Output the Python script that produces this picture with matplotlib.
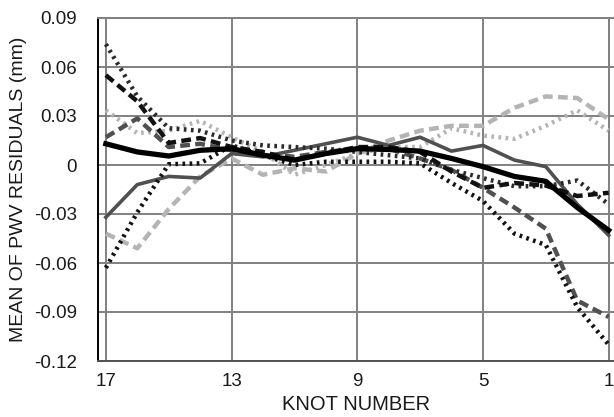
import matplotlib
matplotlib.use("Agg")
import matplotlib.pyplot as plt

plt.rcParams['font.family'] = ['Liberation Sans', 'DejaVu Sans']

# knot numbers, plotted on a reversed axis
knots = list(range(17, 0, -1))

black_solid = [0.013, 0.008, 0.0055, 0.009, 0.010, 0.006, 0.003, 0.007, 0.010,
               0.0095, 0.0085, 0.004, -0.001, -0.007, -0.010, -0.026, -0.040]
gray_solid = [-0.032, -0.012, -0.007, -0.008, 0.007, 0.005, 0.009, 0.013, 0.017,
              0.012, 0.017, 0.0085, 0.012, 0.003, -0.001, -0.024, -0.043]
black_dashed = [0.055, 0.039, 0.0135, 0.0165, 0.011, 0.008, 0.003, 0.007, 0.011,
                0.011, 0.008, -0.004, -0.014, -0.011, -0.0126, -0.019, -0.017]
gray_dashed = [0.017, 0.0285, 0.011, 0.013, 0.009, 0.007, 0.005, 0.008, 0.010,
               0.010, 0.004, -0.003, -0.014, -0.026, -0.039, -0.083, -0.093]
dotted_upper = [0.074, 0.042, 0.0225, 0.021, 0.015, 0.012, 0.011, 0.010, 0.008,
                0.006, 0.004, -0.003, -0.008, -0.013, -0.013, -0.0095, -0.024]
dotted_lower = [-0.063, -0.029, 0.0005, 0.001, 0.012, 0.006, 0.0, 0.002, 0.002,
                0.002, 0.001, -0.011, -0.022, -0.042, -0.049, -0.087, -0.110]
light_dashed = [-0.042, -0.051, -0.027, -0.007, 0.004, -0.006, -0.002, -0.004, 0.007,
                0.015, 0.021, 0.024, 0.024, 0.035, 0.042, 0.041, 0.028]
light_dotted = [0.0335, 0.0195, 0.021, 0.027, 0.017, 0.008, -0.006, 0.0, 0.007,
                0.011, 0.011, 0.0225, 0.018, 0.016, 0.024, 0.0335, 0.021]

x_ticks = [17, 13, 9, 5, 1]
y_ticks = [-0.12, -0.09, -0.06, -0.03, 0, 0.03, 0.06, 0.09]
y_labels = ["-0.12", "-0.09", "-0.06", "-0.03", "0", "0.03", "0.06", "0.09"]

fig = plt.figure(figsize=(6.14, 4.17), dpi=100)
ax = fig.add_axes([98 / 614, 56 / 417, 516 / 614, 343 / 417])

ax.plot(knots, light_dashed, color='#b4b4b4', lw=3.2, ls=(0, (2.2, 1.2)))
ax.plot(knots, light_dotted, color='#b4b4b4', lw=3.2, ls=(0, (0.6, 1.0)))
ax.plot(knots, gray_solid, color='#505050', lw=2.6)
ax.plot(knots, gray_dashed, color='#505050', lw=3.2, ls=(0, (2.2, 1.2)))
ax.plot(knots, dotted_upper, color='#2a2a2a', lw=3.2, ls=(0, (0.6, 1.0)))
ax.plot(knots, dotted_lower, color='#111111', lw=3.2, ls=(0, (0.6, 1.0)))
ax.plot(knots, black_dashed, color='#111111', lw=3.2, ls=(0, (2.2, 1.2)))
ax.plot(knots, black_solid, color='#000000', lw=3.8)

ax.set_xlim(17.25, 0.83)
ax.set_ylim(-0.12, 0.09)
ax.set_xticks(x_ticks)
ax.set_yticks(y_ticks)
ax.set_yticklabels(y_labels)
ax.tick_params(length=0, labelsize=13.5, colors='#1a1a1a')
ax.tick_params(axis='y', pad=15)
ax.tick_params(axis='x', pad=9)

ax.grid(True, color='#808080', lw=1.4)
ax.set_axisbelow(True)
ax.spines['right'].set_visible(False)
ax.spines['top'].set_color('#808080')
ax.spines['top'].set_linewidth(1.4)
ax.spines['bottom'].set_color('#505050')
ax.spines['bottom'].set_linewidth(1.4)
ax.spines['left'].set_color('#000000')
ax.spines['left'].set_linewidth(1.4)

ax.set_xlabel("KNOT NUMBER", fontsize=14.5, labelpad=3, color='#1a1a1a')
ax.set_ylabel("MEAN OF PWV RESIDUALS (mm)", fontsize=14, labelpad=5, color='#1a1a1a')

fig.savefig("out.png", dpi=100)
